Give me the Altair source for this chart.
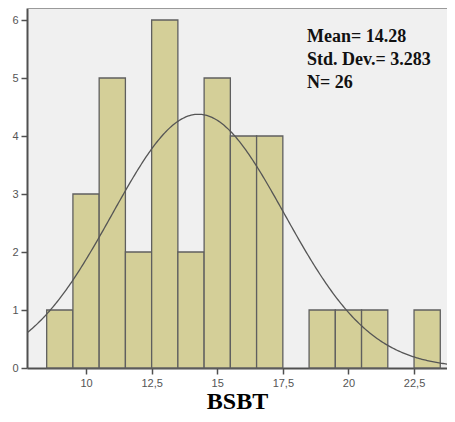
import altair as alt
import pandas as pd

# Histogram data
bin_start = [8.5, 9.5, 10.5, 11.5, 12.5, 13.5, 14.5, 15.5, 16.5, 18.5, 19.5, 20.5, 22.5]
counts = [1, 3, 5, 2, 6, 2, 5, 4, 4, 1, 1, 1, 1]
bin_width = 1.0
mean = 14.28
std = 3.283
n = 26
x_ticks = [10, 12.5, 15, 17.5, 20, 22.5]
y_ticks = [0, 1, 2, 3, 4, 5, 6]
stats_lines = ["Mean= 14.28", "Std. Dev.= 3.283", "N= 26"]

bars_df = pd.DataFrame({
    "start": bin_start,
    "end": [s + bin_width for s in bin_start],
    "count": counts,
})
total = sum(counts)

xscale = alt.Scale(domain=[7.75, 23.756], nice=False, zero=False)
yscale = alt.Scale(domain=[0, 6.207], nice=False)

x_axis = alt.Axis(
    values=x_ticks,
    labelExpr="replace(format(datum.value, '~g'), '.', ',')",
    title="BSBT",
    titleFont="Liberation Serif",
    titleFontWeight="bold",
    titleFontSize=24,
    titleColor="#000000",
    titlePadding=1,
)
y_axis = alt.Axis(values=y_ticks, format="d", title=None)

bars = alt.Chart(bars_df).mark_rect(
    fill="#d4cf98", stroke="#5f5f5f", strokeWidth=1.3
).encode(
    x=alt.X("start:Q", scale=xscale, axis=x_axis),
    x2="end:Q",
    y=alt.Y("count:Q", scale=yscale, axis=y_axis),
    y2=alt.datum(0),
)

curve = alt.Chart(alt.sequence(7.0, 25.0, 0.05, as_="x")).transform_calculate(
    y=f"{total * bin_width}/({std}*sqrt(2*PI))*exp(-0.5*pow((datum.x-{mean})/{std},2))"
).mark_line(clip=True, color="#555555", strokeWidth=1.3).encode(
    x=alt.X("x:Q", scale=xscale),
    y=alt.Y("y:Q", scale=yscale),
)

top_border = alt.Chart(pd.DataFrame({"a": [0]})).mark_rule(
    color="#9a9a9a", strokeWidth=2
).encode(y=alt.value(0))

stats = alt.Chart(pd.DataFrame({"a": [0]})).mark_text(
    text=stats_lines,
    align="left",
    baseline="alphabetic",
    font="Liberation Serif",
    fontWeight="bold",
    fontSize=18,
    lineHeight=23,
    color="#111111",
).encode(x=alt.value(280), y=alt.value(34))

chart = alt.layer(bars, curve, top_border, stats).properties(
    width=420,
    height=360,
    autosize=alt.AutoSizeParams(type="none"),
    padding={"left": 19, "top": 0, "right": 0, "bottom": 46},
).configure(background="#ffffff").configure_view(
    fill="#f0f0f0", strokeWidth=0
).configure_axis(
    grid=False,
    domainColor="#505050",
    domainWidth=2,
    tickColor="#505050",
    tickWidth=1.5,
    tickSize=6,
    labelColor="#555555",
    labelFont="Liberation Sans",
    labelFontSize=11,
    labelPadding=3,
)

chart.save("out.html", embed_options={"renderer": "svg", "actions": False})
